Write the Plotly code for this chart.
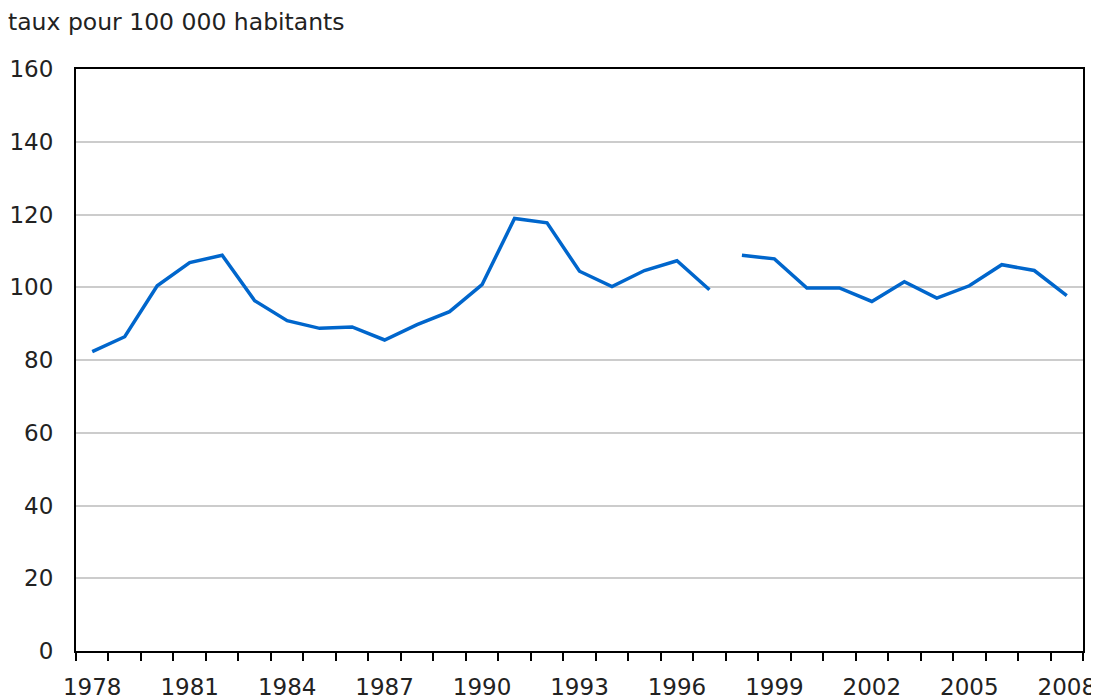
import plotly.graph_objects as go

# Values (rate per 100 000 inhabitants)
years_a = list(range(1978, 1998))
rates_a = [82.3, 86.4, 100.4, 106.8, 108.8, 96.3, 90.8, 88.7, 89.1, 85.5,
           89.7, 93.3, 100.7, 118.9, 117.7, 104.4, 100.2, 104.6, 107.3, 99.3]
years_b = list(range(1998, 2009))
rates_b = [108.8, 107.8, 99.8, 99.8, 96.1, 101.5, 97.0, 100.4, 106.2, 104.6, 97.7]

x_ticks = list(range(1978, 2009, 3))
y_ticks = list(range(0, 161, 20))

_LINE = "#0066cc"
_TEXT = "#222222"
_GRID = "#cccccc"

# the page body adds an 8px margin, so the figure is sized to fit inside it
W, H = 1091, 692

fig = go.Figure()
# the series is broken between 1997 and 1998, so draw it as two segments
for xs, ys in [(years_a, rates_a), (years_b, rates_b)]:
    fig.add_trace(go.Scatter(x=xs, y=ys, mode="lines",
                             line=dict(color=_LINE, width=3.5),
                             showlegend=False))

fig.update_layout(
    width=W, height=H,
    margin=dict(l=68, r=16, t=61, b=49),
    paper_bgcolor="white", plot_bgcolor="white",
    font=dict(family="DejaVu Sans", size=23, color=_TEXT),
    title=dict(text="taux pour 100 000 habitants", xref="container",
               yref="container", x=0, xanchor="left",
               y=1 - 14 / H, yanchor="middle",
               font=dict(size=23.5, color=_TEXT)),
)
fig.update_xaxes(
    range=[1977.5, 2008.5], tickvals=x_ticks, ticks="", automargin=False,
    showline=True, mirror=True, linecolor="black", linewidth=2,
    showgrid=False, zeroline=False, ticklabelstandoff=14,
    minor=dict(ticks="outside", ticklen=8, tickcolor="black", tickwidth=2,
               tick0=1977.5, dtick=1, showgrid=False),
)
fig.update_yaxes(
    range=[0, 160], tickvals=y_ticks, ticks="", automargin=False,
    showline=True, mirror=True, linecolor="black", linewidth=2,
    showgrid=True, gridcolor=_GRID, gridwidth=2, zeroline=False,
    ticklabelstandoff=16,
)

fig.write_html("out.html")
